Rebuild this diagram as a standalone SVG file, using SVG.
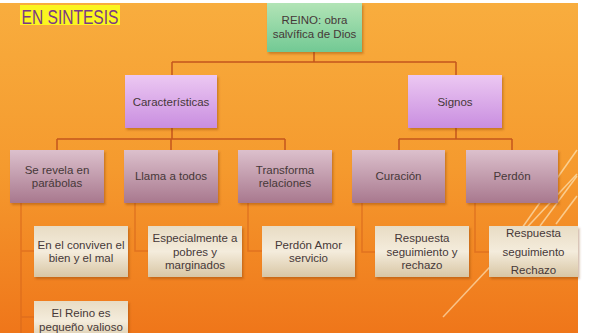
<svg xmlns="http://www.w3.org/2000/svg" width="590" height="333" viewBox="0 0 590 333">
<defs>
<linearGradient id="bg" x1="0" y1="0" x2="0" y2="1">
<stop offset="0" stop-color="#f8ad3e"/>
<stop offset="0.5" stop-color="#f59a2e"/>
<stop offset="1" stop-color="#ef761a"/>
</linearGradient>
<linearGradient id="gGreen" x1="0" y1="0" x2="0" y2="1">
<stop offset="0" stop-color="#b2e4b6"/>
<stop offset="1" stop-color="#72c994"/>
</linearGradient>
<linearGradient id="gLav" x1="0" y1="0" x2="0" y2="1">
<stop offset="0" stop-color="#ecc8f2"/>
<stop offset="1" stop-color="#c98ee0"/>
</linearGradient>
<linearGradient id="gMauve" x1="0" y1="0" x2="0" y2="1">
<stop offset="0" stop-color="#dcc0cc"/>
<stop offset="1" stop-color="#a8788e"/>
</linearGradient>
<linearGradient id="gBeige" x1="0" y1="0" x2="0" y2="1">
<stop offset="0" stop-color="#e8dcc4"/>
<stop offset="0.5" stop-color="#f4ecdc"/>
<stop offset="1" stop-color="#d8c6a4"/>
</linearGradient>
<filter id="sh" x="-10%" y="-10%" width="125%" height="130%">
<feDropShadow dx="1.5" dy="2" stdDeviation="1.2" flood-color="#7a3000" flood-opacity="0.35"/>
</filter>
</defs>
<style>
.t{font-family:"Liberation Sans",Arial,sans-serif;font-size:11.5px;fill:#463838;text-anchor:middle}
.c{fill:none;stroke:#c4561c;stroke-width:1.5}
.f{fill:none;stroke:#d86a1e;stroke-width:1.5;opacity:0.7}
.deco{stroke:#fff2d0;stroke-width:1.5;opacity:0.6}
</style>
<rect x="0" y="0" width="590" height="333" fill="#ffffff"/>
<rect x="0" y="3" width="578" height="330" fill="url(#bg)"/>
<g id="decoration">
<line class="deco" x1="443" y1="317" x2="577" y2="174"/>
<line class="deco" x1="522" y1="228" x2="577" y2="150"/>
<line class="deco" x1="540" y1="226" x2="577" y2="176"/>
<line class="deco" x1="556" y1="224" x2="577" y2="196"/>
</g>
<g id="title">
<rect x="20" y="5" width="100" height="20" fill="#fbf520"/>
<text x="70" y="23.5" font-family="Liberation Sans Narrow,Liberation Sans,Arial,sans-serif" font-size="21" fill="#7a3a86" text-anchor="middle" textLength="97" lengthAdjust="spacingAndGlyphs">EN SINTESIS</text>
</g>
<g id="connectors">
<path class="c" d="M314 52V62M172 62H456M172 62V75M456 62V75"/>
<path class="c" d="M172 128V139M57 139H285M57 139V150M171 139V150M285 139V150"/>
<path class="c" d="M456 128V139M399 139H512M399 139V150M512 139V150"/>
<path class="f" d="M21 203V333M21 251H34M21 317H34"/>
<path class="f" d="M135 203V251H148"/>
<path class="f" d="M248 203V251H262"/>
<path class="f" d="M362 203V252H375"/>
<path class="f" d="M475 203V252H489"/>
</g>
<g id="reino">
<rect x="267" y="3" width="95" height="49" fill="url(#gGreen)" filter="url(#sh)"/>
<text class="t" x="314.5" y="24">REINO: obra</text>
<text class="t" x="314.5" y="38">salvífica de Dios</text>
</g>
<g id="caracteristicas">
<rect x="125" y="75" width="92" height="53" fill="url(#gLav)" filter="url(#sh)"/>
<text class="t" x="171" y="106" font-size="12">Características</text>
</g>
<g id="signos">
<rect x="408" y="75" width="94" height="53" fill="url(#gLav)" filter="url(#sh)"/>
<text class="t" x="455" y="106">Signos</text>
</g>
<g id="serevela">
<rect x="10" y="150" width="94" height="53" fill="url(#gMauve)" filter="url(#sh)"/>
<text class="t" x="57" y="174">Se revela en</text>
<text class="t" x="57" y="187">parábolas</text>
</g>
<g id="llama">
<rect x="124" y="150" width="94" height="53" fill="url(#gMauve)" filter="url(#sh)"/>
<text class="t" x="171" y="180">Llama a todos</text>
</g>
<g id="transforma">
<rect x="238" y="150" width="94" height="53" fill="url(#gMauve)" filter="url(#sh)"/>
<text class="t" x="285" y="174">Transforma</text>
<text class="t" x="285" y="187">relaciones</text>
</g>
<g id="curacion">
<rect x="352" y="150" width="93" height="53" fill="url(#gMauve)" filter="url(#sh)"/>
<text class="t" x="398.5" y="180">Curación</text>
</g>
<g id="perdon">
<rect x="466" y="150" width="92" height="53" fill="url(#gMauve)" filter="url(#sh)"/>
<text class="t" x="512" y="180">Perdón</text>
</g>
<g id="conviven">
<rect x="34" y="226" width="94" height="51" fill="url(#gBeige)" filter="url(#sh)"/>
<text class="t" x="81" y="249">En el conviven el</text>
<text class="t" x="81" y="262">bien y el mal</text>
</g>
<g id="especialmente">
<rect x="148" y="226" width="94" height="51" fill="url(#gBeige)" filter="url(#sh)"/>
<text class="t" x="195" y="242">Especialmente a</text>
<text class="t" x="195" y="256">pobres y</text>
<text class="t" x="195" y="269">marginados</text>
</g>
<g id="perdonamor">
<rect x="262" y="226" width="93" height="51" fill="url(#gBeige)" filter="url(#sh)"/>
<text class="t" x="308.5" y="249">Perdón Amor</text>
<text class="t" x="308.5" y="262">servicio</text>
</g>
<g id="respuesta1">
<rect x="375" y="226" width="94" height="51" fill="url(#gBeige)" filter="url(#sh)"/>
<text class="t" x="422" y="242">Respuesta</text>
<text class="t" x="422" y="256">seguimiento y</text>
<text class="t" x="422" y="269">rechazo</text>
</g>
<g id="respuesta2">
<rect x="489" y="226" width="89" height="51" fill="url(#gBeige)" filter="url(#sh)"/>
<text class="t" x="533.5" y="237">Respuesta</text>
<text class="t" x="533.5" y="256">seguimiento</text>
<text class="t" x="533.5" y="274">Rechazo</text>
</g>
<g id="reinopequeno">
<rect x="34" y="301" width="94" height="40" fill="url(#gBeige)" filter="url(#sh)"/>
<text class="t" x="81" y="317">El Reino es</text>
<text class="t" x="81" y="331">pequeño  valioso</text>
</g>
</svg>
